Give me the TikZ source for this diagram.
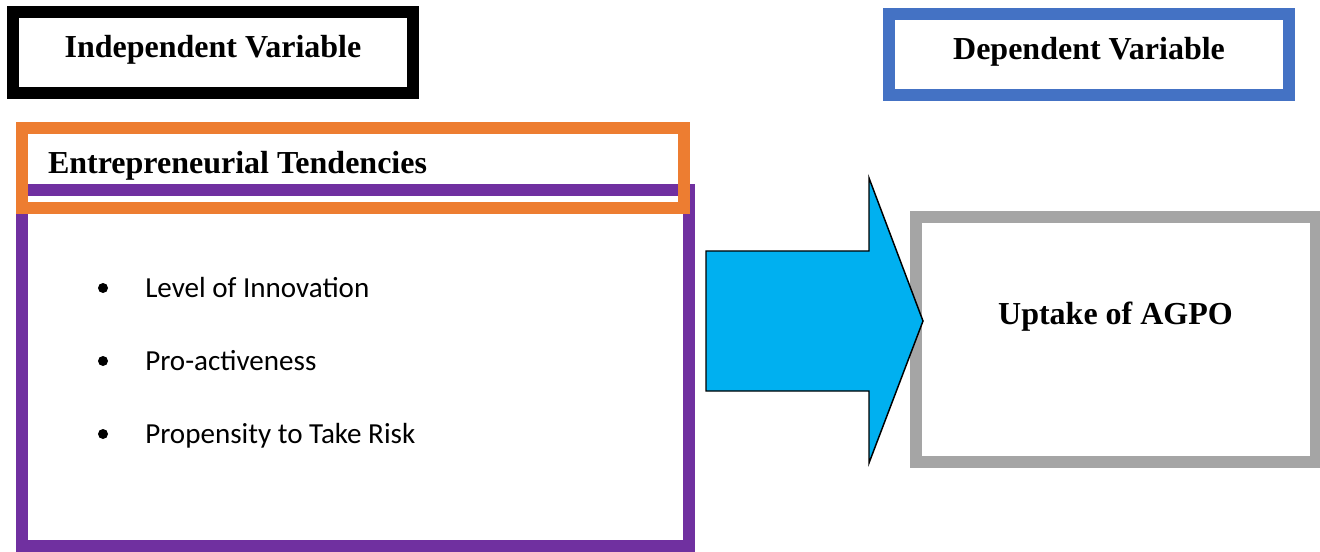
\documentclass[tikz,border=0pt]{standalone}
\usepackage{fontspec}
\setmainfont{Liberation Serif}
\newfontfamily\calibri{Carlito}
\definecolor{ivblack}{RGB}{0,0,0}
\definecolor{etorange}{RGB}{237,125,49}
\definecolor{etpurple}{RGB}{112,48,160}
\definecolor{dvblue}{RGB}{68,114,196}
\definecolor{upgray}{RGB}{165,165,165}
\definecolor{arrowcyan}{RGB}{0,176,240}
\begin{document}
\begin{tikzpicture}[x=0.75pt,y=-0.75pt,
  frame/.style={draw, rectangle, line width=9pt, inner sep=0pt, line join=miter},
  title/.style={font=\bfseries\fontsize{24}{28}\selectfont, anchor=base, inner sep=0pt},
  item/.style={font=\calibri\fontsize{21.8}{26}\selectfont, anchor=base west, inner sep=0pt},
  dot/.style={circle, fill=black, inner sep=0pt, minimum size=7.5pt},
  bigarrow/.style={fill=arrowcyan, draw=black, line width=1.1pt, line join=miter}]
\useasboundingbox (0,0) rectangle (1320,552);
\fill[white] (0,0) rectangle (1320,552);
% left column
\node[frame, draw=ivblack, minimum width=300pt, minimum height=60.75pt] (ivbox) at (213,53) {};
\node[title] (ivtext) at (213,58) {Independent Variable};
\node[frame, draw=etpurple, minimum width=500.25pt, minimum height=267pt] (listbox) at (355.5,368) {};
\node[frame, draw=etorange, minimum width=496.5pt, minimum height=60pt] (etbox) at (353,168) {};
\node[title] (ettext) at (237.5,174) {Entrepreneurial Tendencies};
\node[dot] (b1) at (103,288) {};
\node[dot] (b2) at (103,361) {};
\node[dot] (b3) at (103,434) {};
\node[item] (i1) at (145,297) {Level of Innovation};
\node[item] (i2) at (145,370) {Pro-activeness};
\node[item] (i3) at (145,443) {Propensity to Take Risk};
% right column
\node[frame, draw=dvblue, minimum width=300pt, minimum height=60.4pt] (dvbox) at (1089,54.75) {};
\node[title] (dvtext) at (1089,60) {Dependent Variable};
\node[frame, draw=upgray, minimum width=300pt, minimum height=183.75pt] (upbox) at (1116,339.5) {};
\node[title] (uptext) at (1115.5,324) {Uptake of AGPO};
% arrow
\draw[bigarrow] (706,251) -- (869,251) -- (869,178) -- (923,321) -- (869,463) -- (869,391) -- (706,391) -- cycle;
\end{tikzpicture}
\end{document}
